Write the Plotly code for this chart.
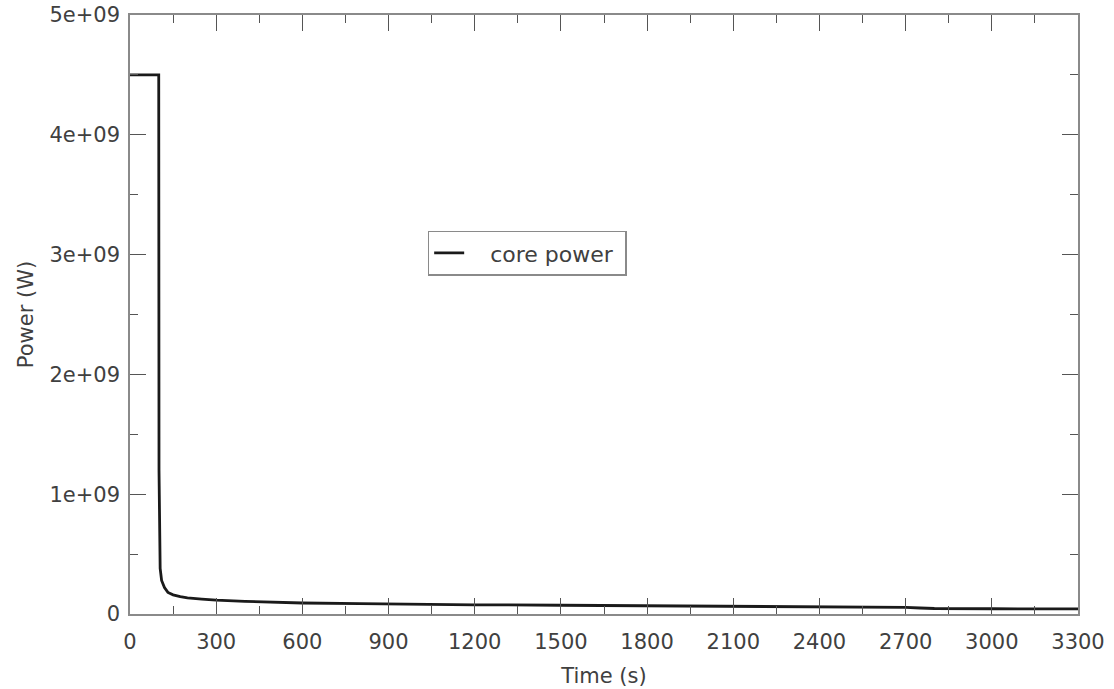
import plotly.graph_objects as go

time_s = [0, 100, 101, 103, 105, 110, 120, 132, 150, 175, 200, 250, 300, 400, 500, 600,
          800, 1000, 1200, 1500, 1800, 2100, 2400, 2700, 2750, 2800, 3000, 3300]
power_w = [4.5e9, 4.5e9, 1.2e9, 0.55e9, 0.38e9, 0.28e9, 0.22e9, 0.18e9, 0.16e9, 0.145e9,
           0.135e9, 0.125e9, 0.115e9, 0.105e9, 0.097e9, 0.092e9, 0.086e9, 0.080e9, 0.077e9,
           0.073e9, 0.070e9, 0.065e9, 0.058e9, 0.055e9, 0.050e9, 0.046e9, 0.044e9, 0.042e9]

x_ticks = [0, 300, 600, 900, 1200, 1500, 1800, 2100, 2400, 2700, 3000, 3300]
y_ticks = [0, 1e9, 2e9, 3e9, 4e9, 5e9]
y_tick_labels = ["0", "1e+09", "2e+09", "3e+09", "4e+09", "5e+09"]
series_name = "core power"

FONT = "DejaVu Sans, Verdana, sans-serif"
TEXT_COLOR = "#404040"

fig = go.Figure()
fig.add_trace(go.Scatter(x=time_s, y=power_w, mode="lines",
                         name="\u00a0\u00a0\u00a0" + series_name + "\u00a0",
                         line=dict(color="#1a1a1a", width=2.8)))

axis_common = dict(showline=True, linecolor="#8a8a8a", linewidth=1.5, mirror="allticks",
                   ticks="inside", ticklen=16, tickwidth=1, tickcolor="#555555",
                   showgrid=False, zeroline=False, automargin=False,
                   tickfont=dict(family=FONT, size=21, color=TEXT_COLOR))

fig.update_xaxes(range=[0, 3300], tickvals=x_ticks, ticktext=[str(v) for v in x_ticks],
                 minor=dict(dtick=150, ticks="inside", ticklen=8, tickcolor="#555555"),
                 ticklabelstandoff=8,
                 title=dict(text="Time (s)", font=dict(family=FONT, size=21, color=TEXT_COLOR), standoff=15),
                 **axis_common)
fig.update_yaxes(range=[0, 5e9], tickvals=y_ticks, ticktext=y_tick_labels,
                 minor=dict(dtick=5e8, ticks="inside", ticklen=8, tickcolor="#555555"),
                 ticklabelstandoff=4,
                 title=dict(text="Power (W)", font=dict(family=FONT, size=21, color=TEXT_COLOR), standoff=10),
                 **axis_common)

fig.update_layout(
    width=1114, height=689,
    margin=dict(l=130, r=36, t=15, b=75),
    plot_bgcolor="white", paper_bgcolor="white",
    showlegend=True,
    legend=dict(x=0.314, y=0.64, xanchor="left", yanchor="top",
                bordercolor="#8a8a8a", borderwidth=1.5, bgcolor="white",
                font=dict(family=FONT, size=22, color=TEXT_COLOR)),
)

fig.write_html("out.html")
